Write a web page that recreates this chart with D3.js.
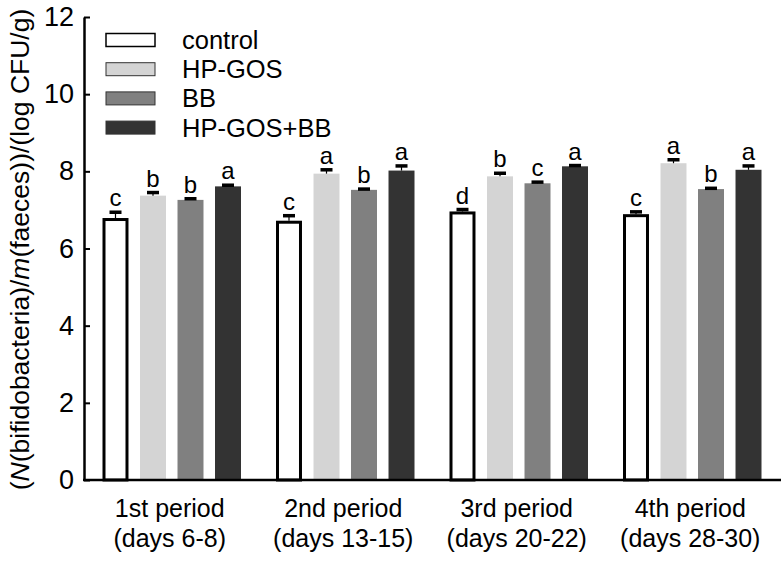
<!DOCTYPE html>
<html><head><meta charset="utf-8">
<script src="https://cdn.jsdelivr.net/npm/d3@7"></script>
<style>
html,body{margin:0;padding:0;background:#fff;}
text{font-family:"Liberation Sans",Arial,sans-serif;fill:#000;}
</style></head>
<body>
<svg id="chart" width="783" height="562"></svg>
<script>
const periods = ["1st period", "2nd period", "3rd period", "4th period"];
const periodDays = ["(days 6-8)", "(days 13-15)", "(days 20-22)", "(days 28-30)"];
const series = ["control", "HP-GOS", "BB", "HP-GOS+BB"];
const colors = ["#ffffff", "#d4d4d4", "#808080", "#333333"];
// values[series][period]
const controlVals = [6.79, 6.72, 6.96, 6.89];
const hpgosVals   = [7.37, 7.94, 7.87, 8.21];
const bbVals      = [7.26, 7.52, 7.69, 7.54];
const comboVals   = [7.61, 8.02, 8.13, 8.04];
const controlErr = [0.15, 0.13, 0.05, 0.06];
const hpgosErr   = [0.08, 0.10, 0.08, 0.09];
const bbErr      = [0.03, 0.02, 0.03, 0.02];
const comboErr   = [0.03, 0.12, 0.02, 0.10];
const controlSig = ["c", "c", "d", "c"];
const hpgosSig   = ["b", "a", "b", "a"];
const bbSig      = ["b", "b", "c", "b"];
const comboSig   = ["a", "a", "a", "a"];
const yTicks = [0, 2, 4, 6, 8, 10, 12];
const yTitleParts = ["(", "N", "(bifidobacteria)/", "m", "(faeces))/(log CFU/g)"];

const values = [controlVals, hpgosVals, bbVals, comboVals];
const errs = [controlErr, hpgosErr, bbErr, comboErr];
const sigs = [controlSig, hpgosSig, bbSig, comboSig];

const svg = d3.select("#chart");
const mLeft = 84, mRight = 779, mTop = 17, mBottom = 480;

const y = d3.scaleLinear().domain([0, 12]).range([mBottom, mTop]);
const x0 = d3.scaleBand().domain(periods).range([mLeft + 1, mRight]).paddingInner(0).paddingOuter(0);
const x1 = d3.scaleBand().domain(series).range([17.5, x0.bandwidth() - 17.5]).paddingInner(0.307).paddingOuter(0);

const data = [];
periods.forEach((p, pi) => {
  series.forEach((s, si) => {
    data.push({p, s, si, v: values[si][pi], e: errs[si][pi], sig: sigs[si][pi]});
  });
});

const g = svg.append("g");
// bars
g.selectAll("rect.bar").data(data).enter().append("rect")
  .attr("class", "bar")
  .attr("x", d => x0(d.p) + x1(d.s) + (d.si === 0 ? 1.5 : 0))
  .attr("width", d => x1.bandwidth() - (d.si === 0 ? 3 : 0))
  .attr("y", d => y(d.v) + (d.si === 0 ? 1.5 : 0))
  .attr("height", d => y(0) - y(d.v) - (d.si === 0 ? 1.5 : 0))
  .attr("fill", d => colors[d.si])
  .attr("stroke", d => d.si === 0 ? "#000" : "none")
  .attr("stroke-width", 3);

// error bars
g.selectAll("line.err").data(data).enter().append("line")
  .attr("x1", d => x0(d.p) + x1(d.s) + x1.bandwidth() / 2)
  .attr("x2", d => x0(d.p) + x1(d.s) + x1.bandwidth() / 2)
  .attr("y1", d => y(d.v))
  .attr("y2", d => y(d.v + d.e))
  .attr("stroke", "#000").attr("stroke-width", 1.2);
g.selectAll("line.cap").data(data).enter().append("line")
  .attr("x1", d => x0(d.p) + x1(d.s) + x1.bandwidth() / 2 - 6)
  .attr("x2", d => x0(d.p) + x1(d.s) + x1.bandwidth() / 2 + 6)
  .attr("y1", d => y(d.v + d.e))
  .attr("y2", d => y(d.v + d.e))
  .attr("stroke", "#000").attr("stroke-width", 3.5);

// significance letters
g.selectAll("text.sig").data(data).enter().append("text")
  .attr("x", d => x0(d.p) + x1(d.s) + x1.bandwidth() / 2)
  .attr("y", d => y(d.v + d.e) - 6)
  .attr("text-anchor", "middle")
  .style("font-size", "24px")
  .text(d => d.sig);

// y axis
const yAxis = d3.axisLeft(y).tickValues(yTicks).tickSizeInner(-6).tickSizeOuter(0).tickPadding(10);
const ya = svg.append("g").attr("transform", `translate(${mLeft},0)`).call(yAxis);
ya.select(".domain").attr("stroke", "#000").attr("stroke-width", 2.5);
ya.selectAll(".tick line").attr("stroke", "#000").attr("stroke-width", 2);
ya.selectAll(".tick text").style("font-size", "27px").style("font-family", "'Liberation Sans', Arial, sans-serif");

// x axis line
svg.append("line").attr("x1", mLeft - 1).attr("x2", mRight + 2).attr("y1", mBottom).attr("y2", mBottom)
  .attr("stroke", "#000").attr("stroke-width", 2.5);

// x labels
const xl = svg.append("g");
periods.forEach((p, i) => {
  const cx = x0(p) + x0.bandwidth() / 2 - 2;
  xl.append("text").attr("x", cx).attr("y", 517).attr("text-anchor", "middle").style("font-size", "25px").text(p);
  xl.append("text").attr("x", cx).attr("y", 547).attr("text-anchor", "middle").style("font-size", "25px").text(periodDays[i]);
});

// y title
const yt = svg.append("text")
  .attr("transform", `translate(29,${(mTop + mBottom) / 2 + 1}) rotate(-90)`)
  .attr("text-anchor", "middle")
  .style("font-size", "26.5px");
yTitleParts.forEach((t, i) => {
  yt.append("tspan").style("font-style", (i === 1 || i === 3) ? "italic" : "normal").text(t);
});

// legend
const lg = svg.append("g");
series.forEach((s, i) => {
  const cy = 40 + i * 29.2;
  lg.append("rect").attr("x", 106).attr("y", cy - 6.5).attr("width", 49).attr("height", 13)
    .attr("fill", colors[i]).attr("stroke", i === 0 ? "#000" : "#333").attr("stroke-width", i === 0 ? 1.5 : 1);
  lg.append("text").attr("x", 182).attr("y", cy + 9).style("font-size", "25.5px").text(s);
});
</script>
</body></html>
